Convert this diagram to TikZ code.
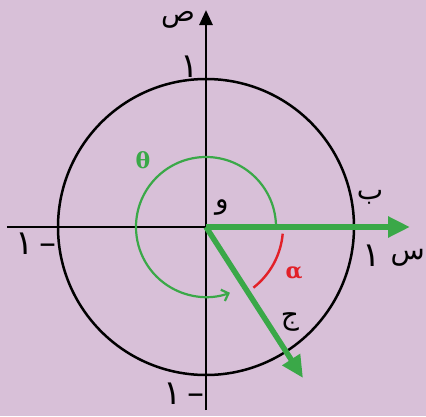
\documentclass[tikz,border=0pt]{standalone}
\usepackage{fontspec}
\usepackage{tikz}
\usetikzlibrary{arrows.meta}
\TeXXeTstate=1
\newfontfamily\arabicfont[Script=Arabic]{DejaVu Sans}
\newfontfamily\greekfont{DejaVu Serif}
\definecolor{lilac}{RGB}{216,192,216}
\definecolor{vecgreen}{RGB}{58,168,72}
\definecolor{angred}{RGB}{226,32,40}
\tikzset{
  ar/.style={font=\arabicfont\fontsize{28}{30}\selectfont,inner sep=0pt},
  num/.style={font=\arabicfont\fontsize{34}{36}\selectfont,inner sep=0pt},
  gr/.style={font=\greekfont\bfseries\fontsize{22}{24}\selectfont,inner sep=0pt},
  vec/.style={vecgreen,line width=5.5pt,-{Triangle[length=22pt,width=20pt]}}
}
\begin{document}
\begin{tikzpicture}[x=1pt,y=1pt]
\fill[lilac](-206,-189)rectangle(220,227);
\useasboundingbox(-206,-189)rectangle(220,227);
\coordinate(O)at(0,0);
\coordinate(L)at(-199,0);
\coordinate(T)at(0,217);
\coordinate(D)at(0,-183);
\coordinate(B)at(204,0);
\coordinate(J)at(97,-151);
\draw[line width=2.8pt](L)--(O);
\draw[line width=2.8pt,-{Triangle[length=15pt,width=13pt]}](D)--(T);
\draw[line width=2.5pt](O)circle(148);
\draw[vecgreen,line width=2.2pt,-{Straight Barb[length=6pt,width=12pt]}]([shift={(0:70)}]O)arc(0:290:70);
\draw[angred,line width=2.4pt]([shift={(-5:77)}]O)arc(-5:-52:77);
\draw[vec](O)--(B);
\draw[vec](O)--(J);
\node[ar](sad)at(-28,207){\beginR ص\endR};
\node[num](oneT)at(-16,160){١};
\node[num](oneL)at(-170,-17){\beginR –\,١\endR};
\node[num](oneD)at(-22,-167){\beginR –\,١\endR};
\node[ar](ba)at(164,30){\beginR ب\endR};
\node[num](oneR)at(166,-29){١};
\node[ar,anchor=east](sin)at(219,-31){\beginR س\endR};
\node[ar](waw)at(16,20){\beginR و\endR};
\node[ar](jim)at(84,-95){\beginR ج\endR};
\node[gr,vecgreen](theta)at(-63,67){θ};
\node[gr,angred](alpha)at(88,-46){α};
\end{tikzpicture}
\end{document}
